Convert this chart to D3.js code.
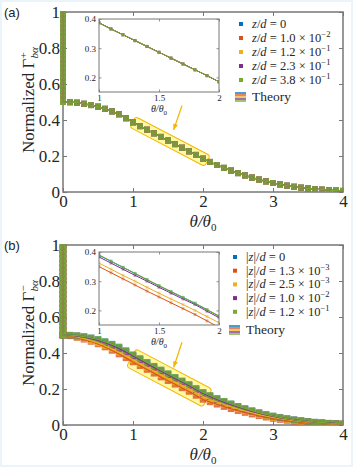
<!DOCTYPE html>
<html>
<head>
<meta charset="utf-8">
<script src="https://cdn.jsdelivr.net/npm/d3@7"></script>
<style>
  body { margin: 0; background: #e9f4fb; }
  svg { display: block; }
  svg text { font-family: "Liberation Serif", "Times New Roman", Times, serif; }
</style>
</head>
<body>
<svg id="chart" width="353" height="467"></svg>
<script>
// theta / theta0 grid
const theta = [0,0.1,0.2,0.3,0.4,0.5,0.6,0.7,0.8,0.9,1.0,1.1,1.2,1.3,1.4,1.5,1.6,1.7,1.8,1.9,2.0,
  2.1,2.2,2.3,2.4,2.5,2.6,2.7,2.8,2.9,3.0,3.1,3.2,3.3,3.4,3.5,3.6,3.7,3.8,3.9,4.0]

// values sitting on theta = 0 (the jump from 1 down to 0.5)
const spikeVals = [1,0.975,0.95,0.925,0.9,0.875,0.85,0.825,0.8,0.775,0.75,0.725,0.7,
  0.675,0.65,0.625,0.6,0.575,0.55,0.525,0.5]

// panel (a): all five z/d curves lie on top of each other
const gammaPlus = [0.5,0.499,0.496,0.49,0.483,0.474,0.462,0.448,0.432,0.41,0.387,
  0.366,0.346,0.326,0.306,0.286,0.266,0.246,0.226,0.206,0.185,
  0.167,0.15,0.134,0.119,0.105,0.092,0.08,0.069,0.059,0.05,
  0.042,0.035,0.029,0.024,0.02,0.016,0.013,0.01,0.008,0.006]

// panel (b): one curve per |z|/d
const gmZ0   = [0.5,0.499,0.496,0.491,0.484,0.475,0.463,0.449,0.433,0.412,0.389,
  0.368,0.347,0.326,0.305,0.284,0.264,0.244,0.224,0.202,0.18,
  0.163,0.147,0.131,0.117,0.103,0.091,0.079,0.068,0.058,0.05,
  0.042,0.035,0.029,0.024,0.02,0.016,0.013,0.01,0.008,0.006]
const gmZ13  = [0.5,0.495,0.486,0.476,0.464,0.45,0.433,0.414,0.394,0.373,0.35,
  0.329,0.308,0.287,0.266,0.246,0.226,0.206,0.186,0.164,0.142,
  0.128,0.115,0.102,0.09,0.079,0.069,0.06,0.051,0.043,0.036,
  0.03,0.025,0.02,0.016,0.013,0.01,0.008,0.006,0.005,0.004]
const gmZ25  = [0.5,0.496,0.489,0.48,0.469,0.456,0.44,0.423,0.404,0.384,0.362,
  0.341,0.32,0.3,0.279,0.259,0.239,0.22,0.2,0.179,0.158,
  0.142,0.128,0.114,0.101,0.089,0.078,0.068,0.058,0.05,0.042,
  0.035,0.029,0.024,0.02,0.016,0.013,0.01,0.008,0.006,0.005]
const gmZ100 = [0.5,0.498,0.494,0.488,0.48,0.47,0.457,0.442,0.425,0.405,0.383,
  0.362,0.341,0.32,0.3,0.279,0.259,0.239,0.22,0.197,0.175,
  0.158,0.142,0.127,0.113,0.1,0.088,0.076,0.066,0.056,0.048,
  0.04,0.034,0.028,0.023,0.019,0.015,0.012,0.01,0.008,0.006]
const gmZ1200 = [0.5,0.499,0.496,0.491,0.484,0.475,0.463,0.449,0.433,0.413,0.39,
  0.369,0.348,0.327,0.306,0.285,0.265,0.245,0.225,0.203,0.181,
  0.164,0.148,0.132,0.118,0.104,0.092,0.08,0.069,0.059,0.05,
  0.042,0.035,0.029,0.024,0.02,0.016,0.013,0.01,0.008,0.006]

const colors = ["#0072BD","#D95319","#EDB120","#7E2F8E","#77AC30"]

const legMantA = ["0","1.0","1.2","2.3","3.8"]
const legExpA  = [null,"−2","−1","−1","−1"]
const legMantB = ["0","1.3","2.5","1.0","1.2"]
const legExpB  = [null,"−3","−3","−2","−1"]

const xTicks = [0,1,2,3,4]
const yTicks = [0,0.2,0.4,0.6,0.8,1]
const insetXTicks = [1,1.5,2]
const insetYTicks = [0.2,0.3,0.4]

const serif = "Liberation Serif, Times New Roman, Times, serif"
const frameCol = "#777"
const textCol = "#262626"
const hiCol = "#f2b705"

const svg = d3.select("#chart")
svg.append("rect").attr("x",2).attr("y",2).attr("width",349).attr("height",463).attr("fill","#fff")

function drawPanel(cfg)
{
    const g = svg.append("g")
    const x = d3.scaleLinear().domain([0,4]).range([63,343])
    const y = d3.scaleLinear().domain([0,1]).range([cfg.bottom, cfg.bottom-180])

    // axes (ticks pointing inward), drawn first so the data sits on top
    const styleAxis = sel => {
        sel.select(".domain").remove()
        sel.attr("font-family",serif).attr("font-size",17)
        sel.selectAll("line").attr("stroke",frameCol).attr("stroke-width",1)
        sel.selectAll("text").attr("fill",textCol)
    }
    g.append("rect").attr("x",63).attr("y",cfg.bottom-180).attr("width",280).attr("height",180)
        .attr("fill","none").attr("stroke",frameCol).attr("stroke-width",1.5)
    g.append("g").attr("transform",`translate(0,${cfg.bottom})`)
        .call(d3.axisBottom(x).tickValues(xTicks).tickSize(-4).tickPadding(3).tickFormat(d3.format("d")))
        .call(styleAxis)
    g.append("g").attr("transform",`translate(0,${cfg.bottom-180})`)
        .call(d3.axisTop(x).tickValues(xTicks).tickSize(-4).tickFormat(""))
        .call(styleAxis)
    g.append("g").attr("transform","translate(63,0)")
        .call(d3.axisLeft(y).tickValues(yTicks).tickSize(-4).tickPadding(3).tickFormat(d=>d===0||d===1?d3.format("d")(d):d3.format(".1f")(d)))
        .call(styleAxis)
    g.append("g").attr("transform","translate(343,0)")
        .call(d3.axisRight(y).tickValues(yTicks).tickSize(-4).tickFormat(""))
        .call(styleAxis)

    const clipId = "clip"+cfg.key
    g.append("clipPath").attr("id",clipId).append("rect")
        .attr("x",59).attr("y",cfg.bottom-181).attr("width",285).attr("height",181)

    const plot = g.append("g").attr("clip-path",`url(#${clipId})`)

    // highlight box along the curves
    const p1 = [x(cfg.box[0]), y(cfg.box[1])]
    const p2 = [x(cfg.box[2]), y(cfg.box[3])]
    const len = Math.hypot(p2[0]-p1[0], p2[1]-p1[1])
    const ang = Math.atan2(p2[1]-p1[1], p2[0]-p1[0])*180/Math.PI
    plot.append("rect")
        .attr("x",-2).attr("y",-cfg.boxH/2).attr("width",len+7).attr("height",cfg.boxH)
        .attr("rx",3)
        .attr("transform",`translate(${p1[0]},${p1[1]}) rotate(${ang})`)
        .attr("fill","#fff45c").attr("fill-opacity",0.55)
        .attr("stroke",hiCol).attr("stroke-width",1)

    // markers
    cfg.series.forEach((vals,i)=>{
        const pts = theta.map((t,j)=>[t,vals[j]]).concat(spikeVals.map(v=>[0,v]))
        plot.append("g").selectAll("rect").data(pts).enter().append("rect")
            .attr("x",d=>x(d[0])-cfg.ms/2).attr("y",d=>y(d[1])-cfg.ms/2)
            .attr("width",cfg.ms).attr("height",cfg.ms)
            .attr("fill",colors[i]).attr("fill-opacity",0.8)
    })
    // theory lines
    const line = d3.line().x(d=>x(d[0])).y(d=>y(d[1]))
    cfg.series.forEach((vals,i)=>{
        const pts = [[0,1]].concat(theta.map((t,j)=>[t,vals[j]]))
        plot.append("path").datum(pts).attr("d",line)
            .attr("fill","none").attr("stroke",colors[i]).attr("stroke-width",1.2)
    })

    // arrow
    const a0 = [x(cfg.arrow[0]), y(cfg.arrow[1])], a1 = [x(cfg.arrow[2]), y(cfg.arrow[3])]
    g.append("line").attr("x1",a0[0]).attr("y1",a0[1]).attr("x2",a1[0]).attr("y2",a1[1])
        .attr("stroke",hiCol).attr("stroke-width",1.3)
    const aa = Math.atan2(a1[1]-a0[1], a1[0]-a0[0])
    const hl = 6, hw = 2.5
    const bx = a1[0]-hl*Math.cos(aa), by = a1[1]-hl*Math.sin(aa)
    g.append("path")
        .attr("d",`M${a1[0]},${a1[1]}L${bx+hw*Math.sin(aa)},${by-hw*Math.cos(aa)}L${bx-hw*Math.sin(aa)},${by+hw*Math.cos(aa)}Z`)
        .attr("fill",hiCol)

    // axis labels
    g.append("text").attr("x",203).attr("y",cfg.bottom+35).attr("text-anchor","middle")
        .attr("fill",textCol).attr("font-size",17).attr("font-style","italic")
        .call(t=>{
            t.append("tspan").text("θ/θ")
            t.append("tspan").attr("dy",4).attr("font-size",11).attr("font-style","normal").text("0")
        })
    const yl = g.append("text")
        .attr("transform",`translate(34,${cfg.bottom-92}) rotate(-90)`)
        .attr("text-anchor","middle").attr("fill",textCol).attr("font-size",17)
    yl.append("tspan").text("Normalized Γ")
    yl.append("tspan").attr("dy",-7).attr("font-size",11).text(cfg.sign)
    yl.append("tspan").attr("dx",-6).attr("dy",11).attr("font-size",11).attr("font-style","italic").text("bα")

    // panel letter
    g.append("text").attr("x",4).attr("y",cfg.bottom-175)
        .attr("fill","#222").style("font-family","Liberation Sans, Arial, sans-serif").attr("font-size",13)
        .text(cfg.letter)

    // inset
    const ix = d3.scaleLinear().domain([1,2]).range([99,219])
    const iy = d3.scaleLinear().domain([0.15,0.4]).range([cfg.bottom-100, cfg.bottom-173])
    g.append("rect").attr("x",99).attr("y",cfg.bottom-173).attr("width",120).attr("height",73).attr("fill","#fff")
    const iclip = "iclip"+cfg.key
    g.append("clipPath").attr("id",iclip).append("rect")
        .attr("x",99).attr("y",cfg.bottom-173).attr("width",120).attr("height",73)
    const ip = g.append("g").attr("clip-path",`url(#${iclip})`)
    const iline = d3.line().x(d=>ix(d[0])).y(d=>iy(d[1]))
    cfg.series.forEach((vals,i)=>{
        const pts = theta.map((t,j)=>[t,vals[j]]).filter(d=>d[0]>=0.9&&d[0]<=2.1)
        ip.append("g").selectAll("rect").data(pts).enter().append("rect")
            .attr("x",d=>ix(d[0])-1.5).attr("y",d=>iy(d[1])-1.5).attr("width",3).attr("height",3)
            .attr("fill",colors[i]).attr("fill-opacity",0.45)
        ip.append("path").datum(pts).attr("d",iline)
            .attr("fill","none").attr("stroke",colors[i]).attr("stroke-width",1)
    })
    const styleInset = sel => {
        sel.select(".domain").remove()
        sel.attr("font-family",serif).attr("font-size",9)
        sel.selectAll("line").attr("stroke",frameCol).attr("stroke-width",0.8)
        sel.selectAll("text").attr("fill",textCol)
    }
    g.append("g").attr("transform",`translate(0,${cfg.bottom-100})`)
        .call(d3.axisBottom(ix).tickValues(insetXTicks).tickSize(-2.5).tickPadding(3).tickFormat(d=>d===1.5?"1.5":d3.format("d")(d)))
        .call(styleInset)
    g.append("g").attr("transform",`translate(0,${cfg.bottom-173})`)
        .call(d3.axisTop(ix).tickValues(insetXTicks).tickSize(-2.5).tickFormat(""))
        .call(styleInset)
    g.append("g").attr("transform","translate(99,0)")
        .call(d3.axisLeft(iy).tickValues(insetYTicks).tickSize(-2.5).tickPadding(3).tickFormat(d3.format(".1f")))
        .call(styleInset)
    g.append("g").attr("transform","translate(219,0)")
        .call(d3.axisRight(iy).tickValues(insetYTicks).tickSize(-2.5).tickFormat(""))
        .call(styleInset)
    g.append("rect").attr("x",99).attr("y",cfg.bottom-173).attr("width",120).attr("height",73)
        .attr("fill","none").attr("stroke",frameCol).attr("stroke-width",1)
    g.append("text").attr("x",159).attr("y",cfg.bottom-80).attr("text-anchor","middle")
        .attr("fill",textCol).attr("font-size",10).attr("font-style","italic")
        .call(t=>{
            t.append("tspan").text("θ/θ")
            t.append("tspan").attr("dy",2.5).attr("font-size",7).attr("font-style","normal").text("0")
        })

    // legend
    const lg = g.append("g").attr("transform",`translate(${cfg.legX},${cfg.legY})`)
    cfg.legMant.forEach((m,i)=>{
        const row = lg.append("g").attr("transform",`translate(0,${i*cfg.legDy})`)
        row.append("rect").attr("x",-2).attr("y",-2).attr("width",4).attr("height",4).attr("fill",colors[i])
        const t = row.append("text").attr("x",11).attr("y",4)
            .attr("fill",textCol).attr("font-size",12.5)
        if(cfg.abs) t.append("tspan").text("|")
        t.append("tspan").attr("font-style","italic").text("z")
        if(cfg.abs) t.append("tspan").text("|")
        t.append("tspan").text("/")
        t.append("tspan").attr("font-style","italic").text("d")
        t.append("tspan").text(" = "+m)
        if(cfg.legExp[i]){
            t.append("tspan").text(" × 10")
            t.append("tspan").attr("dy",-5).attr("font-size",8.5).text(cfg.legExp[i])
        }
    })
    const th = lg.append("g").attr("transform",`translate(0,${cfg.theoryDy})`)
    colors.forEach((c,i)=>{
        th.append("line").attr("x1",-6).attr("x2",5).attr("y1",-4+i*2).attr("y2",-4+i*2)
            .attr("stroke",c).attr("stroke-width",1.4)
    })
    th.append("text").attr("x",11).attr("y",4).attr("fill",textCol)
        .attr("font-size",13.5).text("Theory")
}

drawPanel({key:"a", bottom:192, letter:"(a)", sign:"+",
    series:[gammaPlus,gammaPlus,gammaPlus,gammaPlus,gammaPlus],
    box:[1.02,0.384,2.0,0.185], boxH:12, ms:6,
    arrow:[1.7,0.48,1.58,0.345],
    legX:241, legY:24, legDy:14, theoryDy:73, legMant:legMantA, legExp:legExpA, abs:false})

drawPanel({key:"b", bottom:425, letter:"(b)", sign:"−",
    series:[gmZ0,gmZ13,gmZ25,gmZ100,gmZ1200],
    box:[1.0,0.368,2.0,0.163], boxH:20, ms:6.5,
    arrow:[1.7,0.46,1.58,0.32],
    legX:235, legY:257, legDy:13.7, theoryDy:73, legMant:legMantB, legExp:legExpB, abs:true})
</script>
</body>
</html>
